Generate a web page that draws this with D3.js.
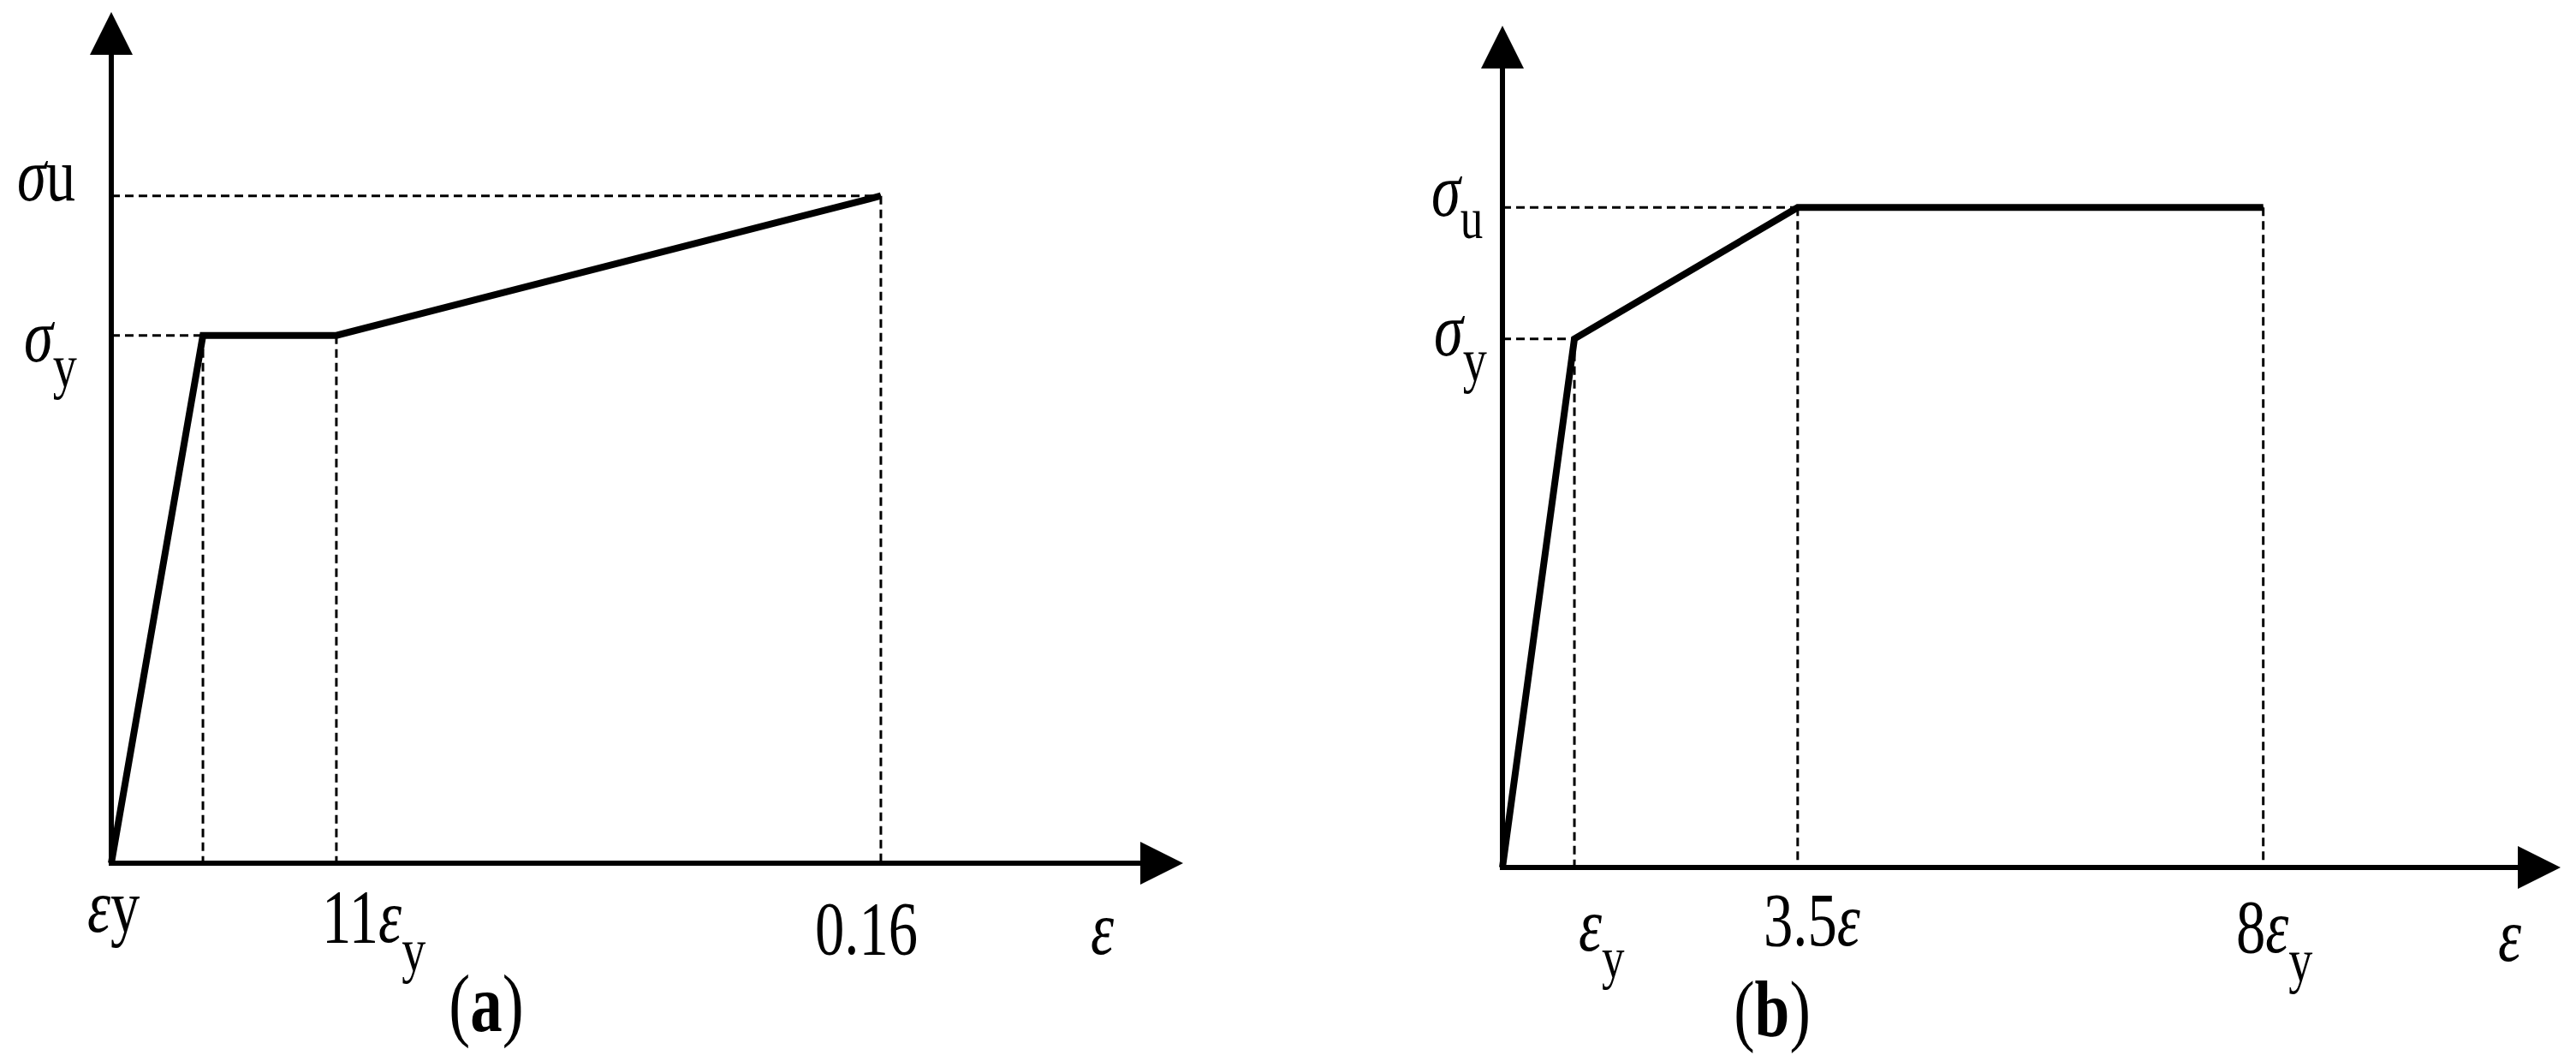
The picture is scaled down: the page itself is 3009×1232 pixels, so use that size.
<!DOCTYPE html>
<html>
<head>
<meta charset="utf-8">
<script src="https://cdn.jsdelivr.net/npm/d3@7"></script>
<style>
  body { margin: 0; background: #fff; }
  text { font-family: "Liberation Serif", "Times New Roman", serif; fill: #000; }
</style>
</head>
<body>
<div class="chart"></div>
<script>
// values are in relative units (0-100 along each axis)
const strainA = [0, 8.55, 21.0, 71.8];
const stressA = [0, 62.0, 62.0, 78.4];
const strainB = [0, 6.8, 27.9, 71.9];
const stressB = [0, 62.8, 78.4, 78.4];

const W = 3009, H = 1232;
const svg = d3.select('.chart')
              .append('svg')
              .attr('width', W)
              .attr('height', H);

const xA = d3.scaleLinear().domain([0, 100]).range([130, 1382]);
const yA = d3.scaleLinear().domain([0, 100]).range([1008, 14]);
const xB = d3.scaleLinear().domain([0, 100]).range([1755, 2991]);
const yB = d3.scaleLinear().domain([0, 100]).range([1013, 30]);

function drawPanel(x, y, strain, stress) {
    const g = svg.append('g');
    const pts = strain.map((s, i) => [s, stress[i]]);
    const arrowLen = 50, arrowHalf = 25;

    const dash = '10,6';
    // horizontal guides to the y-axis
    [1, pts.length - 1].forEach(i => {
        g.append('line')
            .attr('x1', x(0)).attr('x2', x(pts[i][0]))
            .attr('y1', y(pts[i][1])).attr('y2', y(pts[i][1]))
            .attr('stroke', '#000').attr('stroke-width', 3)
            .attr('stroke-dasharray', dash);
    });
    // vertical guides to the x-axis
    pts.slice(1).forEach(p => {
        g.append('line')
            .attr('x1', x(p[0])).attr('x2', x(p[0]))
            .attr('y1', y(p[1])).attr('y2', y(0))
            .attr('stroke', '#000').attr('stroke-width', 3)
            .attr('stroke-dasharray', dash);
    });

    // axes
    g.append('line')
        .attr('x1', x(0)).attr('x2', x(100) - arrowLen)
        .attr('y1', y(0)).attr('y2', y(0))
        .attr('stroke', '#000').attr('stroke-width', 6);
    g.append('line')
        .attr('x1', x(0)).attr('x2', x(0))
        .attr('y1', y(0) + 3).attr('y2', y(100) + arrowLen)
        .attr('stroke', '#000').attr('stroke-width', 6);
    g.append('path')
        .attr('d', `M${x(100)},${y(0)} L${x(100) - arrowLen},${y(0) - arrowHalf} L${x(100) - arrowLen},${y(0) + arrowHalf} Z`)
        .attr('fill', '#000');
    g.append('path')
        .attr('d', `M${x(0)},${y(100)} L${x(0) - arrowHalf},${y(100) + arrowLen} L${x(0) + arrowHalf},${y(100) + arrowLen} Z`)
        .attr('fill', '#000');

    // the curve
    g.append('path')
        .datum(pts)
        .attr('d', d3.line().x(d => x(d[0])).y(d => y(d[1])))
        .attr('fill', 'none')
        .attr('stroke', '#000')
        .attr('stroke-width', 8)
        .attr('stroke-linejoin', 'miter');
}

drawPanel(xA, yA, strainA, stressA);
drawPanel(xB, yB, strainB, stressB);

// label helper: parts = [[text, {italic, bold, size, dy}], ...]
function label(px, py, parts, anchor, size) {
    const g = svg.append('g')
        .attr('transform', `translate(${px},${py}) scale(0.78,1)`);
    const t = g.append('text')
        .attr('font-size', size || 88)
        .attr('text-anchor', anchor || 'start');
    parts.forEach(p => {
        const o = p[1] || {};
        const ts = t.append('tspan').text(p[0]);
        if (o.italic) ts.attr('font-style', 'italic');
        if (o.bold) ts.attr('font-weight', 'bold');
        if (o.size) ts.attr('font-size', o.size);
        if (o.dy) ts.attr('dy', o.dy);
    });
}

// panel (a)
label(20, 234, [['σ', {italic: true}], ['u']]);
label(28, 422, [['σ', {italic: true}], ['y', {size: 72, dy: 30}]]);
label(102, 1088, [['ε', {italic: true}], ['y']]);
label(376, 1100, [['11'], ['ε', {italic: true}], ['y', {size: 72, dy: 34}]]);
label(952, 1114, [['0.16']]);
label(1274, 1114, [['ε', {italic: true}]]);
label(568, 1204, [['('], ['a', {bold: true}], [')']], 'middle', 96);

// panel (b)
label(1672, 252, [['σ', {italic: true}], ['u', {size: 68, dy: 26}]]);
label(1675, 415, [['σ', {italic: true}], ['y', {size: 72, dy: 30}]]);
label(1844, 1110, [['ε', {italic: true}], ['y', {size: 68, dy: 32}]]);
label(2060, 1104, [['3.5'], ['ε', {italic: true}]]);
label(2070, 1210, [['('], ['b', {bold: true}], [')']], 'middle', 94);
label(2612, 1112, [['8'], ['ε', {italic: true}], ['y', {size: 72, dy: 34}]]);
label(2918, 1122, [['ε', {italic: true}]]);
</script>
</body>
</html>
